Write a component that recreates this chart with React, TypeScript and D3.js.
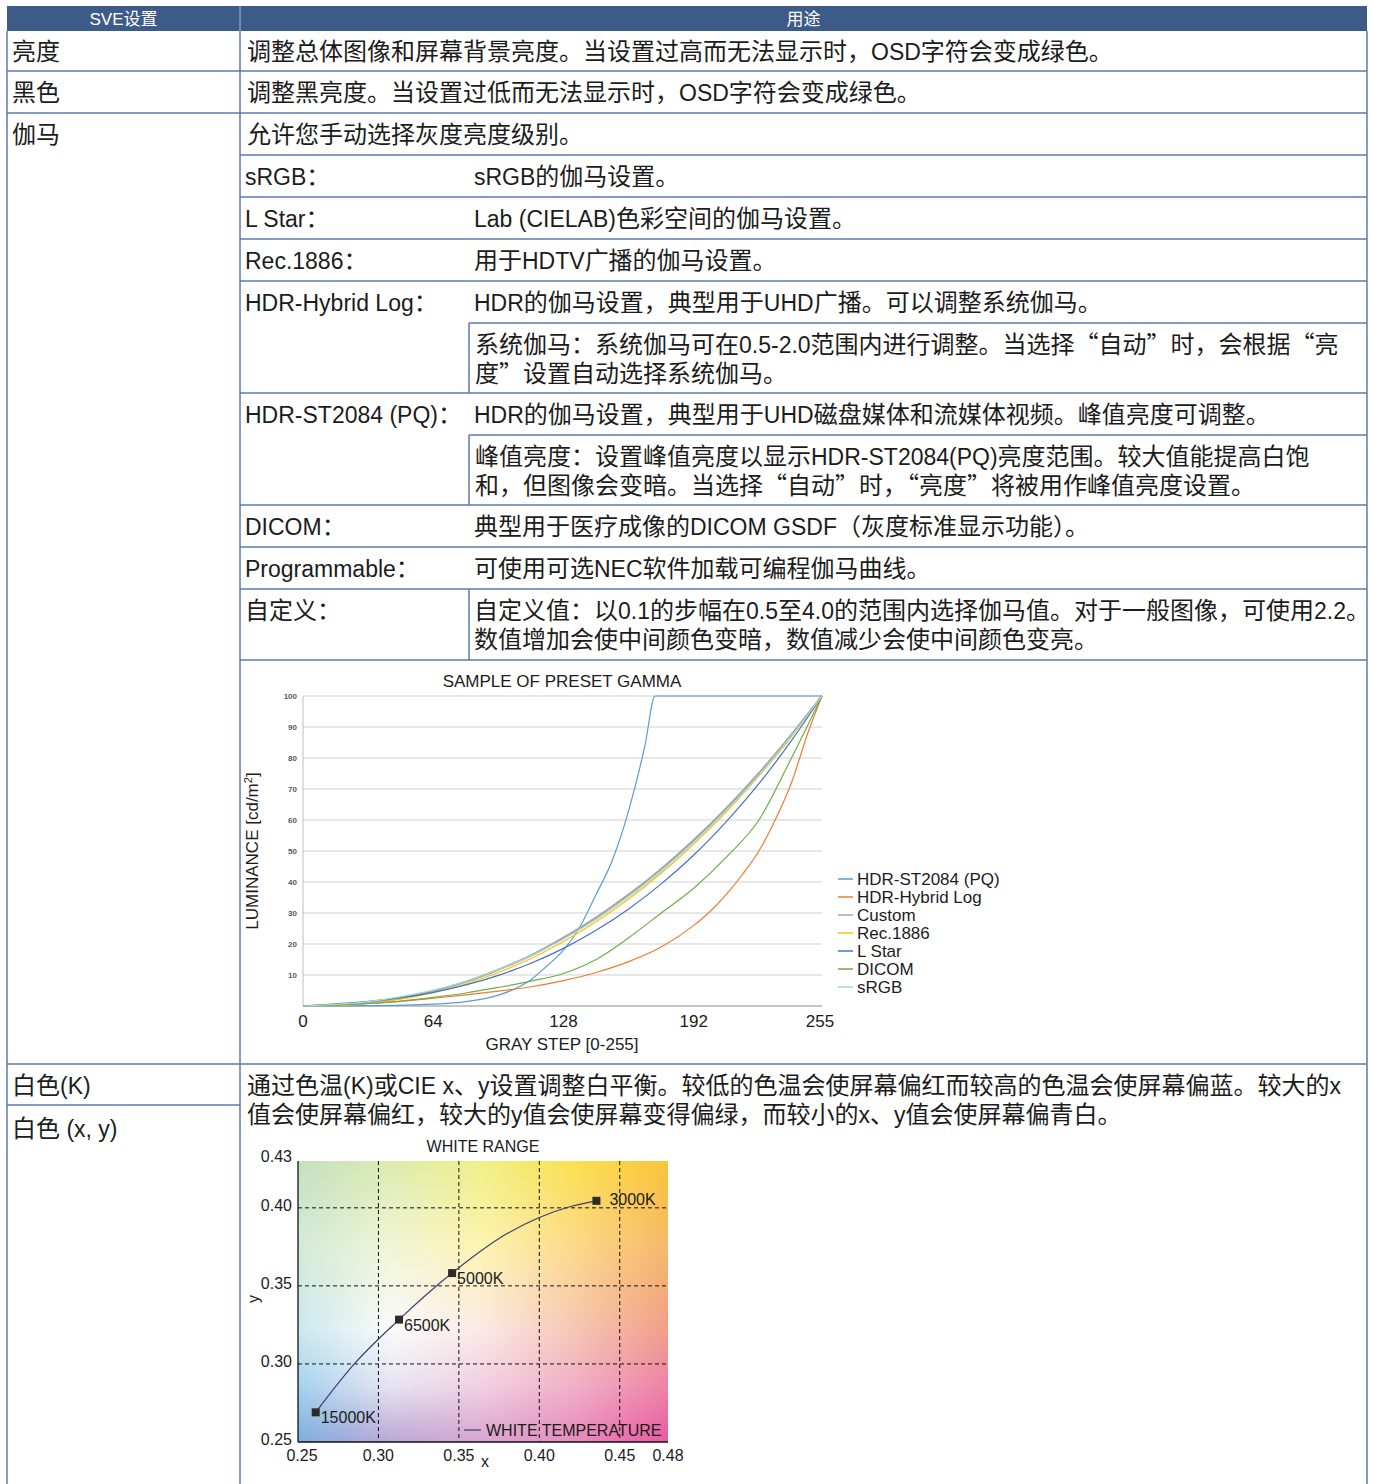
import React, { useEffect, useRef } from 'react';
import * as d3 from 'd3';

const CJK_FONT = "'Noto Sans CJK SC', 'Noto Sans CJK JP', sans-serif";
const LAT_FONT = "'Liberation Sans', Arial, Helvetica, sans-serif";
const LINE_COLOR = '#5b7aae';
const INK = '#1c1c1c';

// ---------------- table content ----------------
const headerTitles = ['SVE设置', '用途'];
const settingNames = ['亮度', '黑色', '伽马', '白色(K)', '白色 (x, y)'];
const brightnessText = '调整总体图像和屏幕背景亮度。当设置过高而无法显示时，OSD字符会变成绿色。';
const blackText = '调整黑亮度。当设置过低而无法显示时，OSD字符会变成绿色。';
const gammaIntroText = '允许您手动选择灰度亮度级别。';
const gammaOptionNames = ['sRGB：', 'L Star：', 'Rec.1886：', 'HDR-Hybrid Log：', 'HDR-ST2084 (PQ)：', 'DICOM：', 'Programmable：', '自定义：'];
const gammaOptionTexts: string[][] = [
  ['sRGB的伽马设置。'],
  ['Lab (CIELAB)色彩空间的伽马设置。'],
  ['用于HDTV广播的伽马设置。'],
  ['HDR的伽马设置，典型用于UHD广播。可以调整系统伽马。'],
  ['HDR的伽马设置，典型用于UHD磁盘媒体和流媒体视频。峰值亮度可调整。'],
  ['典型用于医疗成像的DICOM GSDF（灰度标准显示功能）。'],
  ['可使用可选NEC软件加载可编程伽马曲线。'],
  ['自定义值：以0.1的步幅在0.5至4.0的范围内选择伽马值。对于一般图像，可使用2.2。', '数值增加会使中间颜色变暗，数值减少会使中间颜色变亮。'],
];
const systemGammaNote = ['系统伽马：系统伽马可在0.5-2.0范围内进行调整。当选择“自动”时，会根据“亮', '度”设置自动选择系统伽马。'];
const peakLuminanceNote = ['峰值亮度：设置峰值亮度以显示HDR-ST2084(PQ)亮度范围。较大值能提高白饱', '和，但图像会变暗。当选择“自动”时，“亮度”将被用作峰值亮度设置。'];
const whiteText = ['通过色温(K)或CIE x、y设置调整白平衡。较低的色温会使屏幕偏红而较高的色温会使屏幕偏蓝。较大的x', '值会使屏幕偏红，较大的y值会使屏幕变得偏绿，而较小的x、y值会使屏幕偏青白。'];

// ---------------- gamma chart data ----------------
const gammaTitle = 'SAMPLE OF PRESET GAMMA';
const grayTicks = [0, 64, 128, 192, 255];
const luminanceTicks = [10, 20, 30, 40, 50, 60, 70, 80, 90, 100];
const graySteps = [0, 16, 32, 48, 64, 80, 96, 112, 128, 144, 160, 176, 192, 208, 224, 240, 255];
const customValues = [0, 0.2, 1.0, 2.5, 4.8, 7.8, 11.7, 16.3, 22.0, 28.5, 35.9, 44.2, 53.5, 63.8, 75.1, 87.5, 100];
const rec1886Values = [0, 0.2, 0.8, 2.2, 4.3, 7.1, 10.8, 15.3, 20.8, 27.2, 34.5, 42.8, 52.2, 62.6, 74.2, 86.8, 100];
const srgbValues = [0, 0.5, 1.4, 3.0, 5.1, 8.0, 11.7, 16.2, 21.6, 27.9, 35.2, 43.4, 52.7, 63.1, 74.5, 87.1, 100];
const lStarValues = [0, 0.7, 1.5, 2.7, 4.4, 6.8, 9.9, 13.8, 18.6, 24.4, 31.3, 39.4, 48.7, 59.5, 71.7, 85.6, 100];
const dicomValues = [0, 0.3, 0.8, 1.6, 2.8, 4.2, 6.0, 8.0, 10.5, 15.0, 22.0, 30.0, 38.0, 48.0, 60.0, 80.0, 100];
const hlgSteps = [0, 16, 32, 48, 64, 80, 96, 112, 128, 144, 160, 176, 192, 200, 208, 216, 224, 232, 240, 248, 255];
const hlgValues = [0, 0.3, 0.8, 1.5, 2.5, 3.6, 4.8, 6.2, 8.2, 10.8, 14.3, 19.0, 26.0, 30.5, 36.0, 42.5, 50.0, 60.0, 72.0, 88.0, 100];
const pqSteps = [0, 32, 64, 80, 96, 104, 112, 120, 128, 136, 144, 152, 160, 168, 173, 255];
const pqValues = [0, 0.1, 0.6, 1.4, 3.5, 5.5, 8.5, 13, 18, 25.5, 36, 47, 63, 84, 100, 100];
const gammaSeriesNames = ['HDR-ST2084 (PQ)', 'HDR-Hybrid Log', 'Custom', 'Rec.1886', 'L Star', 'DICOM', 'sRGB'];
const gammaSeriesColors = ['#5b9bd5', '#ed7d31', '#a5a5a5', '#ffc000', '#4472c4', '#70ad47', '#a3d9d6'];

// ---------------- white range data ----------------
const whiteTitle = 'WHITE RANGE';
const whiteXTicks = [0.25, 0.30, 0.35, 0.40, 0.45, 0.48];
const whiteYTicks = [0.25, 0.30, 0.35, 0.40, 0.43];
const whiteGridX = [0.30, 0.35, 0.40, 0.45];
const whiteGridY = [0.30, 0.35, 0.40];
const tempLabels = ['15000K', '6500K', '5000K', '3000K'];
const tempX = [0.261, 0.3128, 0.3458, 0.4355];
const tempY = [0.269, 0.3284, 0.3582, 0.4045];
const curveX = [0.261, 0.285, 0.3128, 0.3458, 0.38, 0.40, 0.42, 0.4355];
const curveY = [0.269, 0.300, 0.3284, 0.3582, 0.3835, 0.3938, 0.401, 0.4045];
// background colour field (top row first)
const fieldColsF = [0, 0.25, 0.5, 0.75, 1];
const fieldRowsF = [0, 0.3, 0.6, 0.8, 1];
const fieldColors = [
  ['#c4e0c0', '#dcebb0', '#f0ef88', '#fbe050', '#fac43a'],
  ['#d4ead8', '#f0f5d6', '#fdf4b0', '#fcd98a', '#f6b868'],
  ['#cbe8ee', '#fafbfa', '#fbe9e6', '#f6c6b4', '#f19e88'],
  ['#a6d2ee', '#e6e4f2', '#f2cfe2', '#f0b0c6', '#ee83a6'],
  ['#7eaedd', '#bba8d6', '#d9a6d0', '#e78abd', '#ea5aa0'],
];

const CJK_RE = /[\u2018-\u201f\u3000-\u303f\u3400-\u9fff\uff00-\uffef]/;
function splitRuns(s: string) {
  const out: { t: string; cjk: boolean }[] = [];
  for (const ch of s) {
    const c = CJK_RE.test(ch);
    const last = out[out.length - 1];
    if (last && last.cjk === c) last.t += ch;
    else out.push({ t: ch, cjk: c });
  }
  return out;
}

function RichText(props: { x: number; y: number; text: string; cjkSize?: number; latSize?: number; anchor?: string; fill?: string }) {
  const { x, y, text, cjkSize = 24, latSize = 23, anchor = 'start', fill = INK } = props;
  return (
    <text x={x} y={y} textAnchor={anchor as any} fill={fill} style={{ whiteSpace: 'pre' }}>
      {splitRuns(text).map((r, i) => (
        <tspan key={i} fontFamily={r.cjk ? CJK_FONT : LAT_FONT} fontSize={r.cjk ? cjkSize : latSize}>{r.t}</tspan>
      ))}
    </text>
  );
}

const X0 = 7, X1 = 240, X2 = 469, X3 = 1367, BOTTOM = 1484;
const BASE = 8; // baseline offset from row centre

export default function App() {
  const imgRef = useRef<SVGImageElement>(null);

  // gamma chart scales
  const gx = d3.scaleLinear().domain([0, 255]).range([303, 822]);
  const gy = d3.scaleLinear().domain([0, 100]).range([1006, 696]);
  const gLine = d3.line<[number, number]>().x(d => gx(d[0])).y(d => gy(d[1])).curve(d3.curveMonotoneX);
  const seriesData: [number, number][][] = [
    pqSteps.map((s, i) => [s, pqValues[i]]),
    hlgSteps.map((s, i) => [s, hlgValues[i]]),
    graySteps.map((s, i) => [s, customValues[i]]),
    graySteps.map((s, i) => [s, rec1886Values[i]]),
    graySteps.map((s, i) => [s, lStarValues[i]]),
    graySteps.map((s, i) => [s, dicomValues[i]]),
    graySteps.map((s, i) => [s, srgbValues[i]]),
  ];

  // white range scales
  const wx = d3.scaleLinear().domain([0.25, 0.48]).range([298, 668]);
  const wy = d3.scaleLinear().domain([0.25, 0.43]).range([1442, 1161]);
  const wLine = d3.line<[number, number]>().x(d => wx(d[0])).y(d => wy(d[1])).curve(d3.curveMonotoneX);
  const fmt2 = d3.format('.2f');

  useEffect(() => {
    const w = Math.round(wx(0.48) - wx(0.25));
    const h = Math.round(wy(0.25) - wy(0.43));
    const c = document.createElement('canvas');
    c.width = w; c.height = h;
    const ctx = c.getContext('2d');
    if (!ctx) return;
    const img = ctx.createImageData(w, h);
    const grid = fieldColors.map(r => r.map(col => d3.rgb(col)));
    const seg = (stops: number[], f: number) => {
      let i = 0;
      while (i < stops.length - 2 && f > stops[i + 1]) i++;
      const t = (f - stops[i]) / (stops[i + 1] - stops[i]);
      return [i, Math.max(0, Math.min(1, t))];
    };
    for (let y = 0; y < h; y++) {
      const [ri, t] = seg(fieldRowsF, y / (h - 1));
      for (let x = 0; x < w; x++) {
        const [ci, s] = seg(fieldColsF, x / (w - 1));
        const c00 = grid[ri][ci], c01 = grid[ri][ci + 1], c10 = grid[ri + 1][ci], c11 = grid[ri + 1][ci + 1];
        const k = (y * w + x) * 4;
        const mix = (a: number, b: number, cc: number, d: number) =>
          (a * (1 - s) + b * s) * (1 - t) + (cc * (1 - s) + d * s) * t;
        img.data[k] = mix(c00.r, c01.r, c10.r, c11.r);
        img.data[k + 1] = mix(c00.g, c01.g, c10.g, c11.g);
        img.data[k + 2] = mix(c00.b, c01.b, c10.b, c11.b);
        img.data[k + 3] = 255;
      }
    }
    ctx.putImageData(img, 0, 0);
    if (imgRef.current) imgRef.current.setAttribute('href', c.toDataURL());
  }, []);

  // table row layout
  const optTops = [155, 197, 239, 281, 393, 505, 547, 589];
  const fullLines = [71, 113, 1064];
  const rightLines = [155, 197, 239, 281, 393, 505, 547, 589, 660];
  const subLines = [323, 435];
  const subVerticals: [number, number][] = [[323, 393], [435, 505], [589, 660]];

  return (
    <svg width={1373} height={1484} style={{ position: 'absolute', left: 0, top: 0, background: '#fff' }}>
      <rect x={0} y={0} width={1373} height={1484} fill="#fff" />

      {/* header */}
      <rect x={X0} y={6} width={X3 - X0} height={25} fill="#3d5b89" />
      <line x1={X1} x2={X1} y1={6} y2={31} stroke="#a9b8d2" strokeWidth={1} />
      <RichText x={(X0 + X1) / 2} y={25} text={headerTitles[0]} cjkSize={17} latSize={17} anchor="middle" fill="#fff" />
      <RichText x={(X1 + X3) / 2} y={25} text={headerTitles[1]} cjkSize={17} latSize={17} anchor="middle" fill="#fff" />

      {/* left column labels */}
      <RichText x={12} y={52 + BASE} text={settingNames[0]} />
      <RichText x={12} y={93 + BASE} text={settingNames[1]} />
      <RichText x={12} y={135 + BASE} text={settingNames[2]} />
      <RichText x={12} y={1086 + BASE} text={settingNames[3]} />
      <RichText x={12} y={1129 + BASE} text={settingNames[4]} />

      {/* right column texts */}
      <RichText x={247} y={52 + BASE} text={brightnessText} />
      <RichText x={247} y={93 + BASE} text={blackText} />
      <RichText x={247} y={135 + BASE} text={gammaIntroText} />
      {gammaOptionNames.map((n, i) => (
        <g key={n}>
          <RichText x={245} y={optTops[i] + 22 + BASE} text={n} />
          {gammaOptionTexts[i].map((t, j) => (
            <RichText key={j} x={474} y={optTops[i] + 22 + j * 29 + BASE} text={t} />
          ))}
        </g>
      ))}
      {systemGammaNote.map((t, j) => <RichText key={'s' + j} x={475} y={345 + j * 29 + BASE} text={t} />)}
      {peakLuminanceNote.map((t, j) => <RichText key={'p' + j} x={475} y={457 + j * 29 + BASE} text={t} />)}
      {whiteText.map((t, j) => <RichText key={'w' + j} x={247} y={1086 + j * 29 + BASE} text={t} />)}

      {/* table lines */}
      <g stroke={LINE_COLOR} strokeWidth={1.5}>
        <line x1={X0} x2={X0} y1={31} y2={BOTTOM} />
        <line x1={X1} x2={X1} y1={31} y2={BOTTOM} />
        <line x1={X3} x2={X3} y1={31} y2={BOTTOM} />
        {fullLines.map(y => <line key={'f' + y} x1={X0} x2={X3} y1={y} y2={y} />)}
        {rightLines.map(y => <line key={'r' + y} x1={X1} x2={X3} y1={y} y2={y} />)}
        {subLines.map(y => <line key={'s' + y} x1={X2} x2={X3} y1={y} y2={y} />)}
        {subVerticals.map(([a, b]) => <line key={'v' + a} x1={X2} x2={X2} y1={a} y2={b} />)}
        <line x1={X0} x2={X1} y1={1105} y2={1105} />
      </g>

      {/* gamma chart */}
      <g fontFamily={LAT_FONT}>
        <text x={562} y={687} textAnchor="middle" fontSize={17} fill={INK}>{gammaTitle}</text>
        {luminanceTicks.map(t => (
          <g key={t}>
            <line x1={gx(0)} x2={gx(255)} y1={gy(t)} y2={gy(t)} stroke="#d0d0d0" strokeWidth={1.2} />
            <text x={297} y={gy(t) + 3} textAnchor="end" fontSize={8} fontWeight="bold" fill="#595959">{t}</text>
          </g>
        ))}
        <line x1={gx(0)} x2={gx(0)} y1={gy(0)} y2={gy(100)} stroke="#bfbfbf" strokeWidth={1} />
        <line x1={gx(0)} x2={gx(255)} y1={gy(0)} y2={gy(0)} stroke="#8c8c8c" strokeWidth={1.2} />
        {grayTicks.map(t => (
          <text key={t} x={gx(t) - (t === 255 ? 2 : 0)} y={1027} textAnchor="middle" fontSize={17} fill={INK}>{t}</text>
        ))}
        <text x={562} y={1050} textAnchor="middle" fontSize={17} fill={INK}>GRAY STEP [0-255]</text>
        <text transform="translate(252,851) rotate(-90)" textAnchor="middle" dy="0.35em" fontSize={17} fill={INK}>
          LUMINANCE [cd/m<tspan fontSize={11} dy={-6}>2</tspan><tspan dy={6}>]</tspan>
        </text>
        {seriesData.map((d, i) => (
          <path key={i} d={gLine(d) || ''} fill="none" stroke={gammaSeriesColors[i]} strokeWidth={i === 2 ? 2.2 : 1.2} />
        ))}
        {gammaSeriesNames.map((n, i) => (
          <g key={n}>
            <line x1={838} x2={853} y1={879 + i * 18} y2={879 + i * 18} stroke={gammaSeriesColors[i]} strokeWidth={1.5} />
            <text x={857} y={879 + i * 18 + 6} fontSize={17} fill={INK}>{n}</text>
          </g>
        ))}
      </g>

      {/* white range chart */}
      <g fontFamily={LAT_FONT}>
        <image ref={imgRef} x={wx(0.25)} y={wy(0.43)} width={wx(0.48) - wx(0.25)} height={wy(0.25) - wy(0.43)} preserveAspectRatio="none" />
        <text x={483} y={1152} textAnchor="middle" fontSize={16} fill={INK}>{whiteTitle}</text>
        {whiteGridX.map(v => (
          <line key={'gx' + v} x1={wx(v)} x2={wx(v)} y1={wy(0.43)} y2={wy(0.25)} stroke="#111" strokeWidth={1} strokeDasharray="4 3" />
        ))}
        {whiteGridY.map(v => (
          <line key={'gy' + v} x1={wx(0.25)} x2={wx(0.48)} y1={wy(v)} y2={wy(v)} stroke="#111" strokeWidth={1} strokeDasharray="4 3" />
        ))}
        <line x1={wx(0.25)} x2={wx(0.25)} y1={wy(0.43)} y2={wy(0.25)} stroke="#111" strokeWidth={1.3} />
        <line x1={wx(0.25)} x2={wx(0.48)} y1={wy(0.25)} y2={wy(0.25)} stroke="#111" strokeWidth={1.3} />
        {whiteYTicks.map(v => (
          <text key={'yt' + v} x={292} y={wy(v) + (v === 0.43 ? 1 : 3)} textAnchor="end" fontSize={16} fill={INK}>{fmt2(v)}</text>
        ))}
        {whiteXTicks.map(v => (
          <text key={'xt' + v} x={wx(v) + (v === 0.25 ? 4 : 0)} y={1461} textAnchor="middle" fontSize={16} fill={INK}>{fmt2(v)}</text>
        ))}
        <text x={485} y={1467} textAnchor="middle" fontSize={16} fill={INK}>x</text>
        <text transform="translate(253,1299) rotate(-90)" textAnchor="middle" dy="0.35em" fontSize={16} fill={INK}>y</text>
        <path d={wLine(curveX.map((x, i) => [x, curveY[i]] as [number, number])) || ''} fill="none" stroke="#3b3f70" strokeWidth={1.2} />
        {tempX.map((x, i) => (
          <rect key={'m' + i} x={wx(x) - 4} y={wy(tempY[i]) - 4} width={8} height={8} fill="#2b2b2b" />
        ))}
        {tempLabels.map((l, i) => (
          <text key={l} x={wx(tempX[i]) + (i === 3 ? 13 : 5)} y={wy(tempY[i]) + (i === 3 ? 4 : 11)} fontSize={16} fill={INK}>{l}</text>
        ))}
        <line x1={464} x2={481} y1={1430} y2={1430} stroke="#3b3f70" strokeWidth={1.2} />
        <text x={486} y={1436} fontSize={16} fill={INK}>WHITE TEMPERATURE</text>
      </g>
    </svg>
  );
}
